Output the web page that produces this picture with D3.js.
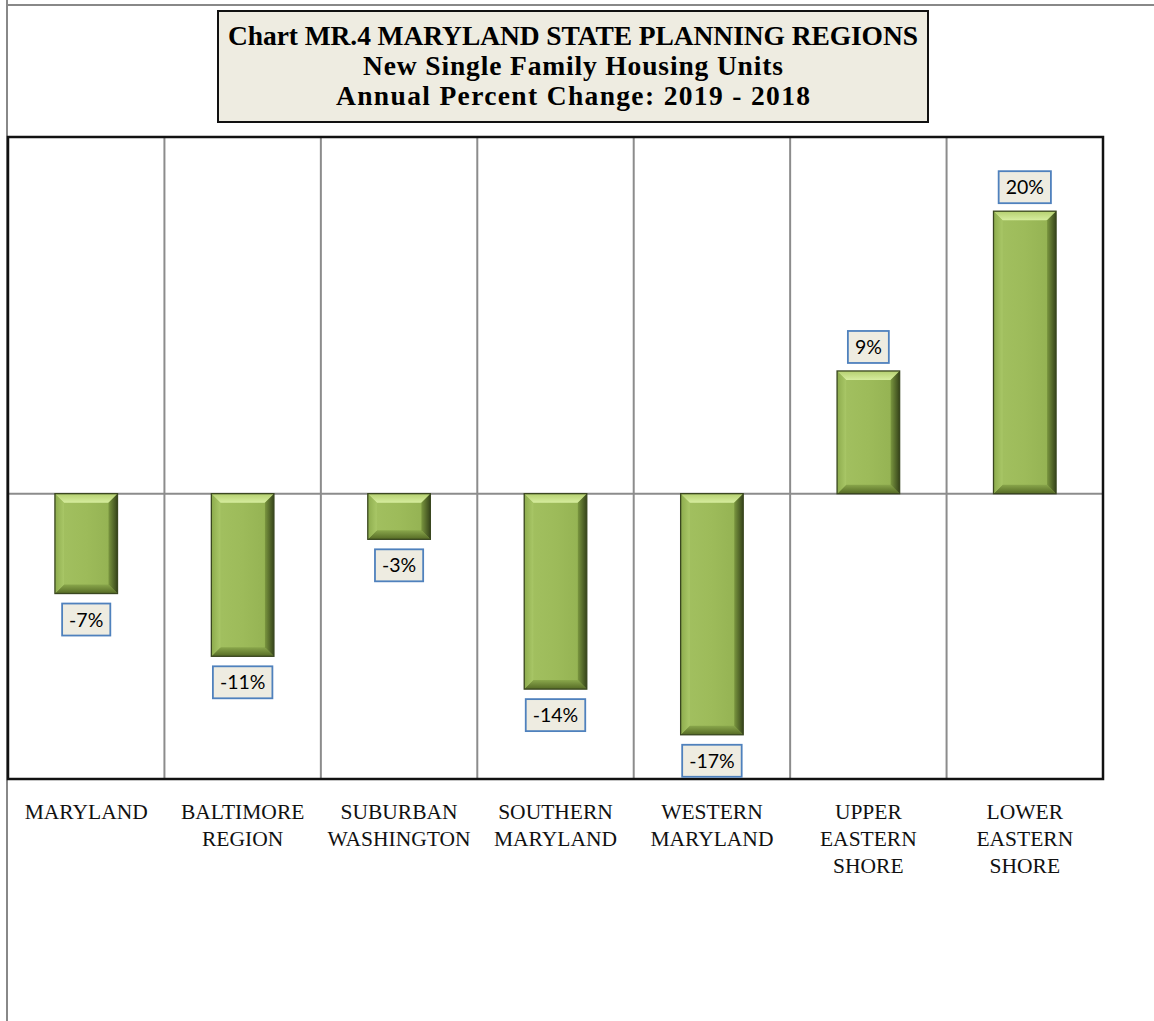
<!DOCTYPE html>
<html><head><meta charset="utf-8">
<script src="https://cdn.jsdelivr.net/npm/d3@7"></script>
<style>body{margin:0;background:#fff}svg{display:block}</style>
</head><body>
<svg id="c" width="1154" height="1021"></svg>
<script>
const categories = [["MARYLAND"],["BALTIMORE","REGION"],["SUBURBAN","WASHINGTON"],["SOUTHERN","MARYLAND"],["WESTERN","MARYLAND"],["UPPER","EASTERN","SHORE"],["LOWER","EASTERN","SHORE"]];
const values = [-7.0, -11.4, -3.2, -13.7, -16.9, 8.6, 19.8];
const titleLines = ["Chart MR.4 MARYLAND STATE PLANNING REGIONS","New Single Family Housing Units","Annual Percent Change: 2019 - 2018"];
const yDomain = [-20, 25];

const svg = d3.select("#c");
const W = 1154, H = 1021;
const plot = {l: 8, t: 137, r: 1103, b: 779};

// outer frame
svg.append("line").attr("x1",7).attr("x2",7).attr("y1",0).attr("y2",H).attr("stroke","#888").attr("stroke-width",2);
svg.append("line").attr("x1",7).attr("x2",W).attr("y1",5).attr("y2",5).attr("stroke","#888").attr("stroke-width",2);

const keys = categories.map((c,i)=>i);
const x = d3.scaleBand().domain(keys).range([plot.l, plot.r]).padding(0);
const y = d3.scaleLinear().domain(yDomain).range([plot.b, plot.t]);

// vertical separators
svg.append("g").selectAll("line").data(keys.slice(1)).join("line")
  .attr("x1",d=>x(d)).attr("x2",d=>x(d)).attr("y1",plot.t).attr("y2",plot.b)
  .attr("stroke","#8c8c8c").attr("stroke-width",2);
// zero line
svg.append("line").attr("x1",plot.l).attr("x2",plot.r).attr("y1",y(0)).attr("y2",y(0))
  .attr("stroke","#8c8c8c").attr("stroke-width",2);
// plot border
svg.append("rect").attr("x",plot.l).attr("y",plot.t).attr("width",plot.r-plot.l).attr("height",plot.b-plot.t)
  .attr("fill","none").attr("stroke","#111").attr("stroke-width",2.5);

// gradients
const defs = svg.append("defs");
function lg(id, x1,y1,x2,y2, stops){
  const g = defs.append("linearGradient").attr("id",id).attr("x1",x1).attr("y1",y1).attr("x2",x2).attr("y2",y2);
  stops.forEach(s=>g.append("stop").attr("offset",s[0]).attr("stop-color",s[1]));
}
lg("gTop",0,0,0,1,[[0,"#b5d070"],[1,"#d6ed9e"]]);
lg("gBot",0,0,0,1,[[0,"#89a64b"],[1,"#556a25"]]);
lg("gLeft",0,0,1,0,[[0,"#8dac4d"],[1,"#a9c767"]]);
lg("gRight",0,0,1,0,[[0,"#7a963f"],[1,"#36441a"]]);
lg("gMid",0,0,1,0,[[0,"#a3c161"],[0.5,"#9dbb5a"],[1,"#92b051"]]);

const barW = x.bandwidth()*0.4;
const bars = svg.append("g");
values.forEach((v,i)=>{
  const x0 = x(i) + (x.bandwidth()-barW)/2, x1 = x0 + barW;
  const y0 = Math.min(y(0), y(v)), y1 = Math.max(y(0), y(v));
  const b = Math.min(9, (y1-y0)/2.2, barW/2.2);
  const g = bars.append("g");
  const P = pts => pts.map(p=>p.join(",")).join(" ");
  g.append("rect").attr("x",x0).attr("y",y0).attr("width",barW).attr("height",y1-y0).attr("fill","url(#gMid)");
  g.append("polygon").attr("points",P([[x0,y0],[x1,y0],[x1-b,y0+b],[x0+b,y0+b]])).attr("fill","url(#gTop)");
  g.append("polygon").attr("points",P([[x0,y1],[x1,y1],[x1-b,y1-b],[x0+b,y1-b]])).attr("fill","url(#gBot)");
  g.append("polygon").attr("points",P([[x0,y0],[x0+b,y0+b],[x0+b,y1-b],[x0,y1]])).attr("fill","url(#gLeft)");
  g.append("polygon").attr("points",P([[x1,y0],[x1-b,y0+b],[x1-b,y1-b],[x1,y1]])).attr("fill","url(#gRight)");
  g.append("rect").attr("x",x0).attr("y",y0).attr("width",barW).attr("height",y1-y0)
    .attr("fill","none").attr("stroke","#3a4720").attr("stroke-width",1.3);

  // data label
  const txt = Math.round(v) + "%";
  const lbl = svg.append("g");
  const t = lbl.append("text").text(txt).attr("font-family","Lato, 'Open Sans', sans-serif")
    .attr("font-size",19.5).attr("text-anchor","middle").attr("fill","#000");
  const tw = t.node().getComputedTextLength();
  const bw = tw + 14, bh = 32;
  const cx = (x0+x1)/2;
  const by = v < 0 ? y1 + 10 : y0 - 8 - bh;
  lbl.insert("rect","text").attr("x",cx-bw/2).attr("y",by).attr("width",bw).attr("height",bh)
    .attr("fill","#eeece1").attr("stroke","#4f81bd").attr("stroke-width",1.8);
  t.attr("x",cx).attr("y",by+bh/2+7);
});

// category labels
const cat = svg.append("g");
categories.forEach((lines,i)=>{
  const t = cat.append("text").attr("font-family","'Liberation Serif', serif").attr("font-size",21.5)
    .attr("text-anchor","middle").attr("fill","#111");
  lines.forEach((ln,j)=>t.append("tspan").attr("x",x(i)+x.bandwidth()/2).attr("y",819+j*27).text(ln));
});

// title
const tb = {x:218, y:11, w:710, h:111};
const titleWidths = [690, 420, 474];
svg.append("rect").attr("x",tb.x).attr("y",tb.y).attr("width",tb.w).attr("height",tb.h)
  .attr("fill","#eeece1").attr("stroke","#111").attr("stroke-width",2);
titleLines.forEach((ln,j)=>svg.append("text").attr("font-family","'Liberation Serif', serif").attr("font-weight","bold")
  .attr("font-size",27.5).attr("text-anchor","middle").attr("fill","#000")
  .attr("x",tb.x+tb.w/2).attr("y",45+j*30).attr("textLength",titleWidths[j]).attr("lengthAdjust","spacing").text(ln));
</script>
</body></html>
